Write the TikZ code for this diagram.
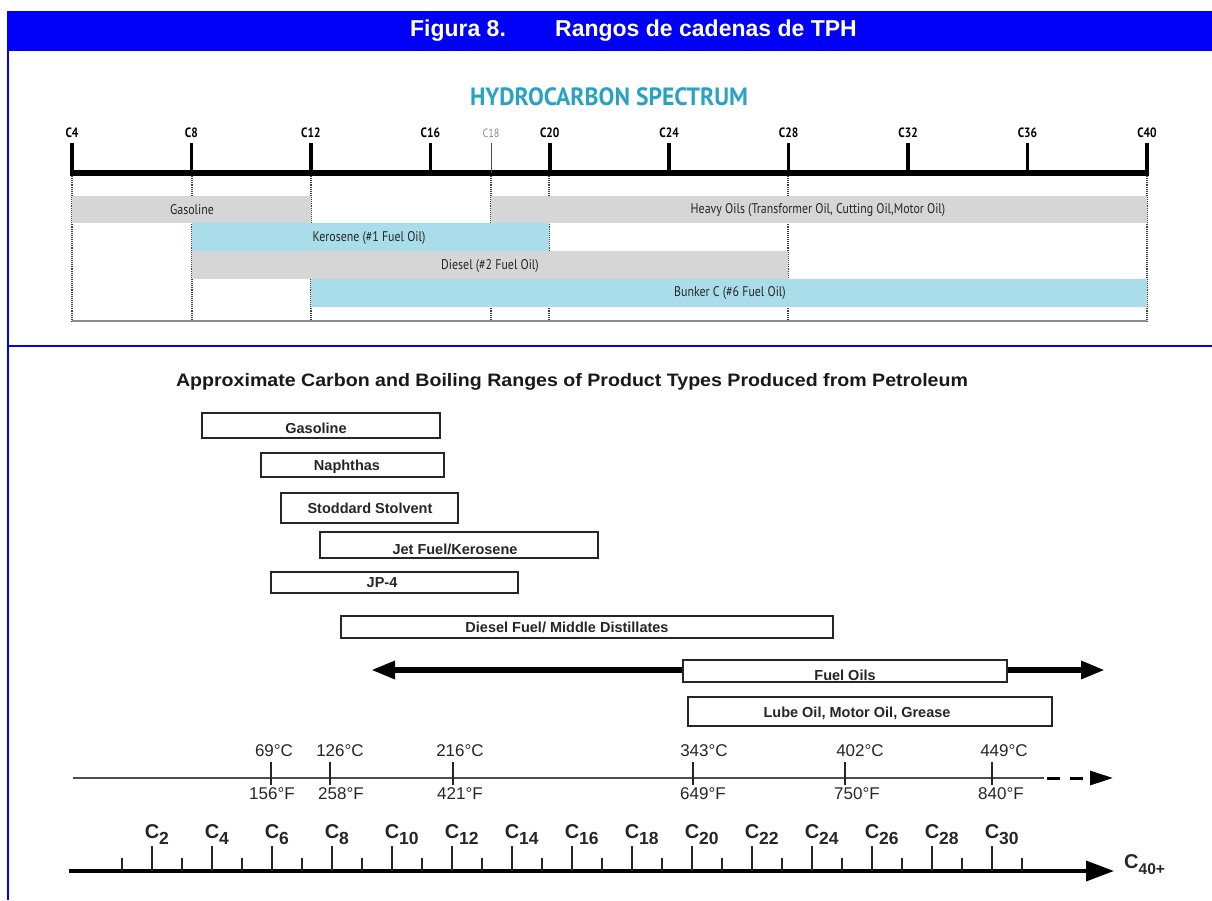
\documentclass[tikz,border=0pt]{standalone}
\usepackage{fontspec}
\usepackage{graphicx}
\setmainfont{Liberation Sans}
\newfontfamily\condf[FakeStretch=0.85]{PT Sans}
\usetikzlibrary{arrows.meta}
\definecolor{hdrblue}{RGB}{0,0,250}
\definecolor{barGray}{RGB}{214,214,214}
\definecolor{barBlue}{RGB}{170,221,234}
\definecolor{specTeal}{RGB}{42,162,196}
\newcommand{\fitto}[2]{\resizebox{#1}{\height}{#2}}
\begin{document}
\begin{tikzpicture}[x=1pt,y=-1pt,
  hdr/.style={text=white,font=\fontsize{23}{23}\selectfont\bfseries,inner sep=0pt},
  toplab/.style={font=\condf\fontsize{13.5}{13.5}\selectfont\bfseries,inner sep=0pt},
  barlab/.style={inner sep=0pt,font=\condf\fontsize{14}{14}\selectfont,text=black!85},
  bar/.style={inner sep=0pt,draw=none},
  dotv/.style={densely dotted,line width=1.1pt,black!75},
  pbox/.style={draw=black!85,fill=white,line width=1.6pt,inner sep=0pt},
  plab/.style={inner sep=0pt,font=\fontsize{14.5}{14.5}\selectfont\bfseries,text=black!85},
  templab/.style={inner sep=0pt,font=\fontsize{17}{17}\selectfont,text=black!85},
  clab/.style={inner sep=0pt,anchor=base,font=\fontsize{20}{20}\selectfont\bfseries,text=black!85},
]
\useasboundingbox (0,0) rectangle (1212,900);
\fill[white] (0,0) rectangle (1212,900);

% ---------- frame and header ----------
\fill[hdrblue] (7,11) rectangle (1212,51);
\coordinate (fl1) at (8,11); \coordinate (fl2) at (8,900);
\coordinate (fh1) at (8,346); \coordinate (fh2) at (1212,346);
\draw[hdrblue,line width=2.5pt] (fl1) -- (fl2);
\draw[hdrblue,line width=2.5pt] (fh1) -- (fh2);
\node[hdr] (fig) at (458,31) {Figura 8.};
\node[hdr] (rng) at (706,31) {Rangos de cadenas de TPH};

% ---------- hydrocarbon spectrum ----------
\node[inner sep=0pt,text=specTeal] (spec) at (609,97)
  {\fitto{278pt}{\condf\fontsize{25}{25}\selectfont\bfseries HYDROCARBON SPECTRUM}};

% dotted verticals
\foreach \xx/\nm in {72/a,192/b,311/c,491/d,549/e,788/f,1147/g}{
  \coordinate (dv\nm1) at (\xx,176);
  \coordinate (dv\nm2) at (\xx,321);
  \draw[dotv] (dv\nm1) -- (dv\nm2);
}

% bars
\node[bar,fill=barGray,minimum width=239pt,minimum height=27pt] (bgas) at (191.5,209.5) {};
\node[barlab] (lgas) at (192,210) {Gasoline};
\node[bar,fill=barGray,minimum width=656pt,minimum height=27pt] (bheavy) at (819,209.5) {};
\node[barlab] (lheavy) at (818,210) {Heavy Oils (Transformer Oil, Cutting Oil,Motor Oil)};
\node[bar,fill=barBlue,minimum width=357pt,minimum height=28pt] (bker) at (370.5,237) {};
\node[barlab] (lker) at (369,238) {Kerosene (\#1 Fuel Oil)};
\node[bar,fill=barGray,minimum width=596pt,minimum height=28pt] (bdie) at (490,265) {};
\node[barlab] (ldie) at (490,266) {Diesel (\#2 Fuel Oil)};
\node[bar,fill=barBlue,minimum width=836pt,minimum height=28pt] (bbun) at (729,293) {};
\node[barlab] (lbun) at (730,293.5) {Bunker C (\#6 Fuel Oil)};

% bottom gray line
\coordinate (bl1) at (72,321); \coordinate (bl2) at (1147,321);
\draw[black!45,line width=2.5pt] (bl1) -- (bl2);

% axis
\coordinate (ax1) at (70,173); \coordinate (ax2) at (1149,173);
\draw[line width=6pt] (ax1) -- (ax2);
\foreach \n in {4,8,12,16,20,24,28,32,36,40}{
  \pgfmathsetmacro{\xx}{72+(\n-4)*29.86}
  \coordinate (tt\n) at (\xx,143);
  \coordinate (tb\n) at (\xx,173);
  \draw[line width=3.5pt] (tt\n) -- (tb\n);
  \node[toplab] (tl\n) at (\xx,133) {C\n};
}
\coordinate (tt18) at (491,143); \coordinate (tb18) at (491,173);
\draw[line width=1pt,black!70] (tt18) -- (tb18);
\node[inner sep=0pt,font=\condf\fontsize{12}{12}\selectfont,text=black!45] (tl18) at (491,133) {C18};

% ---------- product ranges ----------
\node[inner sep=0pt,text=black!90] (title2) at (572,382)
  {\fitto{792pt}{\fontsize{18}{18}\selectfont\bfseries Approximate Carbon and Boiling Ranges of Product Types Produced from Petroleum}};

\node[pbox,minimum width=238pt,minimum height=25pt] (pgas) at (321,425.5) {};
\node[plab] (tgas) at (316,428) {Gasoline};
\node[pbox,minimum width=183pt,minimum height=24pt] (pnap) at (352.5,465) {};
\node[plab] (tnap) at (347,467) {Naphthas};
\node[pbox,minimum width=177pt,minimum height=30pt] (psto) at (369.5,508) {};
\node[plab] (tsto) at (370,508) {Stoddard Stolvent};
\node[pbox,minimum width=278pt,minimum height=26pt] (pjet) at (459,545) {};
\node[plab] (tjet) at (455,549) {Jet Fuel/Kerosene};
\node[pbox,minimum width=247pt,minimum height=21pt] (pjp) at (394.5,582.5) {};
\node[plab] (tjp) at (382,583) {JP-4};
\node[pbox,minimum width=492pt,minimum height=22pt] (pdie) at (587,627) {};
\node[plab] (tdie) at (567,627) {Diesel Fuel/ Middle Distillates};

\coordinate (fa) at (371,670); \coordinate (fb) at (1105,670);
\draw[line width=6pt,{Triangle[length=24pt,width=17pt]}-{Triangle[length=24pt,width=17pt]}] (fa) -- (fb);
\node[pbox,minimum width=324pt,minimum height=22pt] (pfuel) at (845,671) {};
\node[plab] (tfuel) at (845,675) {Fuel Oils};
\node[pbox,minimum width=364pt,minimum height=29pt] (plube) at (870,711.5) {};
\node[plab] (tlube) at (857,713) {Lube Oil, Motor Oil, Grease};

% ---------- temperature axis ----------
\coordinate (ta1) at (73,778); \coordinate (ta2) at (1044,778);
\coordinate (ta3) at (1047,778); \coordinate (ta4) at (1113,778);
\draw[black!70,line width=2.2pt] (ta1) -- (ta2);
\draw[line width=3pt,dash pattern=on 13pt off 10pt,-{Triangle[length=23pt,width=14pt]}] (ta3) -- (ta4);
\foreach \xx/\cc/\ff/\cx/\fx/\nm in {271/69/156/274/272/a,330/126/258/340/341/b,453/216/421/460/460/c,693/343/649/704/703/d,845/402/750/860/857/e,992/449/840/1004/1001/f}{
  \coordinate (tk\nm1) at (\xx,762);
  \coordinate (tk\nm2) at (\xx,785);
  \draw[line width=1.6pt,black!85] (tk\nm1) -- (tk\nm2);
  \node[templab] (tc\nm) at (\cx,751) {\cc\textdegree C};
  \node[templab] (tf\nm) at (\fx,794) {\ff\textdegree F};
}

% ---------- carbon axis ----------
\coordinate (ca1) at (69,871); \coordinate (ca2) at (1114,871);
\draw[line width=3.5pt,-{Triangle[length=28pt,width=20pt]}] (ca1) -- (ca2);
\foreach \n in {2,4,...,30}{
  \pgfmathsetmacro{\xx}{152+30*(\n-2)}
  \coordinate (ct\n) at (\xx,846);
  \coordinate (cb\n) at (\xx,871);
  \draw[line width=1.8pt,black!85] (ct\n) -- (cb\n);
  \node[clab] (cl\n) at (\xx,838) {C\rlap{\raisebox{-6pt}{\fontsize{17.5}{17.5}\selectfont\n}}};
}
\foreach \n in {1,3,...,31}{
  \pgfmathsetmacro{\xx}{152+30*(\n-2)}
  \coordinate (mt\n) at (\xx,858);
  \coordinate (mb\n) at (\xx,871);
  \draw[line width=1.8pt,black!85] (mt\n) -- (mb\n);
}
\node[clab,anchor=base west] (c40) at (1124,868) {C\raisebox{-6pt}{\fontsize{15.5}{15.5}\selectfont 40+}};
\end{tikzpicture}
\end{document}
